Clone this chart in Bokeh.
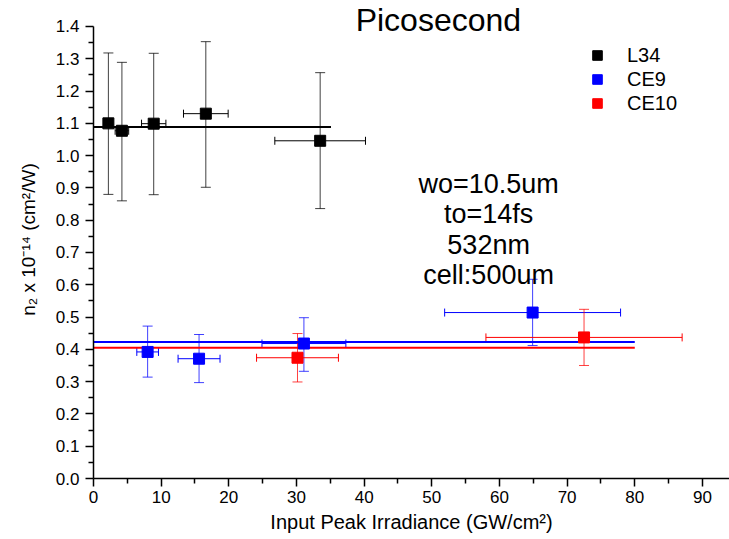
from bokeh.plotting import figure
from bokeh.models import (ColumnDataSource, Whisker, TeeHead, Label, Legend, LegendItem,
                          FixedTicker, Range1d)
from bokeh.embed import file_html
from bokeh.resources import INLINE

# ---------------- data ----------------
series_names = ["L34", "CE9", "CE10"]
series_colors = ["#000000", "#0000ff", "#ff0000"]

l34_x = [2.2, 4.2, 8.9, 16.6, 33.5]
l34_y = [1.100, 1.077, 1.099, 1.130, 1.046]
l34_ylo = [0.880, 0.860, 0.879, 0.902, 0.836]
l34_yhi = [1.318, 1.289, 1.317, 1.353, 1.257]
l34_xerr = [0.5, 1.0, 1.8, 3.3, 6.7]

ce9_x = [8.0, 15.6, 31.1, 64.9]
ce9_y = [0.392, 0.371, 0.418, 0.514]
ce9_ylo = [0.314, 0.297, 0.332, 0.412]
ce9_yhi = [0.472, 0.446, 0.498, 0.617]
ce9_xerr = [1.6, 3.1, 6.2, 13.0]

ce10_x = [30.15, 72.5]
ce10_y = [0.374, 0.437]
ce10_ylo = [0.299, 0.350]
ce10_yhi = [0.449, 0.524]
ce10_xerr = [6.05, 14.5]

fit_x_start = [0, 0, 0]
fit_x_end = [35.1, 80, 80]
fit_y = [1.089, 0.423, 0.405]

x_ticks = [0, 10, 20, 30, 40, 50, 60, 70, 80, 90]
x_minor = [5, 15, 25, 35, 45, 55, 65, 75, 85]
y_ticks = [0.0, 0.1, 0.2, 0.3, 0.4, 0.5, 0.6, 0.7, 0.8, 0.9, 1.0, 1.1, 1.2, 1.3, 1.4]
y_minor = [0.05, 0.15, 0.25, 0.35, 0.45, 0.55, 0.65, 0.75, 0.85, 0.95, 1.05, 1.15, 1.25, 1.35]

title_text = "Picosecond"
title_x, title_y = 50.97, 1.419
note_lines = ["wo=10.5um", "to=14fs", "532nm", "cell:500um"]
note_y = [0.913, 0.820, 0.722, 0.629]
note_x = 58.4

FONT = "Liberation Sans"

p = figure(width=729, height=539, output_backend="svg", toolbar_location=None,
           x_range=Range1d(0, 94), y_range=Range1d(0, 1.4805),
           min_border_left=93, min_border_right=0, min_border_top=0, min_border_bottom=61)
p.outline_line_color = None
p.xgrid.visible = False
p.ygrid.visible = False
p.background_fill_color = "white"
p.border_fill_color = "white"

for ax, ticks, minor in ((p.xaxis[0], x_ticks, x_minor), (p.yaxis[0], y_ticks, y_minor)):
    ax.ticker = FixedTicker(ticks=ticks, minor_ticks=minor)
    ax.axis_line_width = 1.5
    ax.axis_line_color = "black"
    ax.major_tick_line_width = 1.5
    ax.minor_tick_line_width = 1.5
    ax.major_tick_in = 0
    ax.major_tick_out = 8
    ax.minor_tick_in = 0
    ax.minor_tick_out = 5
    ax.major_label_text_font = FONT
    ax.major_label_text_font_size = "17px"
    ax.major_label_text_color = "black"
    ax.axis_label_text_font = FONT
    ax.axis_label_text_font_style = "normal"
    ax.axis_label_text_color = "black"

p.yaxis[0].bounds = (0, 1.4)
p.yaxis[0].major_label_overrides = {t: f"{t:.1f}" for t in y_ticks}
p.xaxis[0].major_label_overrides = {t: f"{t:d}" for t in x_ticks}
p.xaxis[0].axis_label = "Input Peak Irradiance (GW/cm\u00b2)"
p.xaxis[0].axis_label_text_font_size = "20px"
p.xaxis[0].axis_label_standoff = 5
p.xaxis[0].major_label_standoff = 4
p.yaxis[0].axis_label = "n\u2082 x 10\u207b\u00b9\u2074 (cm\u00b2/W)"
p.yaxis[0].axis_label_text_font_size = "19px"
p.yaxis[0].axis_label_standoff = 14
p.yaxis[0].major_label_standoff = 6

series = [
    (l34_x, l34_y, l34_ylo, l34_yhi, l34_xerr),
    (ce9_x, ce9_y, ce9_ylo, ce9_yhi, ce9_xerr),
    (ce10_x, ce10_y, ce10_ylo, ce10_yhi, ce10_xerr),
]

# fit lines
for i in range(3):
    p.line([fit_x_start[i], fit_x_end[i]], [fit_y[i], fit_y[i]],
           line_color=series_colors[i], line_width=2)

renderers = []
for (xs, ys, ylo, yhi, xerr), col in zip(series, series_colors):
    src = ColumnDataSource(dict(
        x=xs, y=ys, ylo=ylo, yhi=yhi,
        xlo=[a - e for a, e in zip(xs, xerr)],
        xhi=[a + e for a, e in zip(xs, xerr)],
    ))
    vw = Whisker(source=src, base="x", lower="ylo", upper="yhi", dimension="height",
                 line_color=col, line_width=1, line_alpha=0.75,
                 upper_head=TeeHead(size=10, line_color=col, line_width=1, line_alpha=0.75),
                 lower_head=TeeHead(size=10, line_color=col, line_width=1, line_alpha=0.75))
    hw = Whisker(source=src, base="y", lower="xlo", upper="xhi", dimension="width",
                 line_color=col, line_width=1,
                 upper_head=TeeHead(size=8, line_color=col, line_width=1),
                 lower_head=TeeHead(size=8, line_color=col, line_width=1))
    p.add_layout(vw)
    p.add_layout(hw)
    r = p.scatter("x", "y", source=src, marker="square", size=11,
                  fill_color=col, line_color=col)
    renderers.append(r)

legend = Legend(items=[LegendItem(label=n, renderers=[r]) for n, r in zip(series_names, renderers)],
                location=(492, 363), orientation="vertical",
                glyph_width=24, glyph_height=24, label_height=24, spacing=0,
                padding=0, margin=0, label_standoff=18,
                label_text_font=FONT, label_text_font_size="20px", label_text_color="black",
                border_line_color=None, background_fill_alpha=0)
p.add_layout(legend)

p.add_layout(Label(x=title_x, y=title_y, text=title_text, text_font=FONT,
                   text_font_size="32px", text_align="center", text_baseline="middle",
                   text_color="black"))
for t, yy in zip(note_lines, note_y):
    p.add_layout(Label(x=note_x, y=yy, text=t, text_font=FONT, text_font_size="27px",
                       text_align="center", text_baseline="middle", text_color="black"))

open("out.html", "w").write(file_html(p, INLINE))
